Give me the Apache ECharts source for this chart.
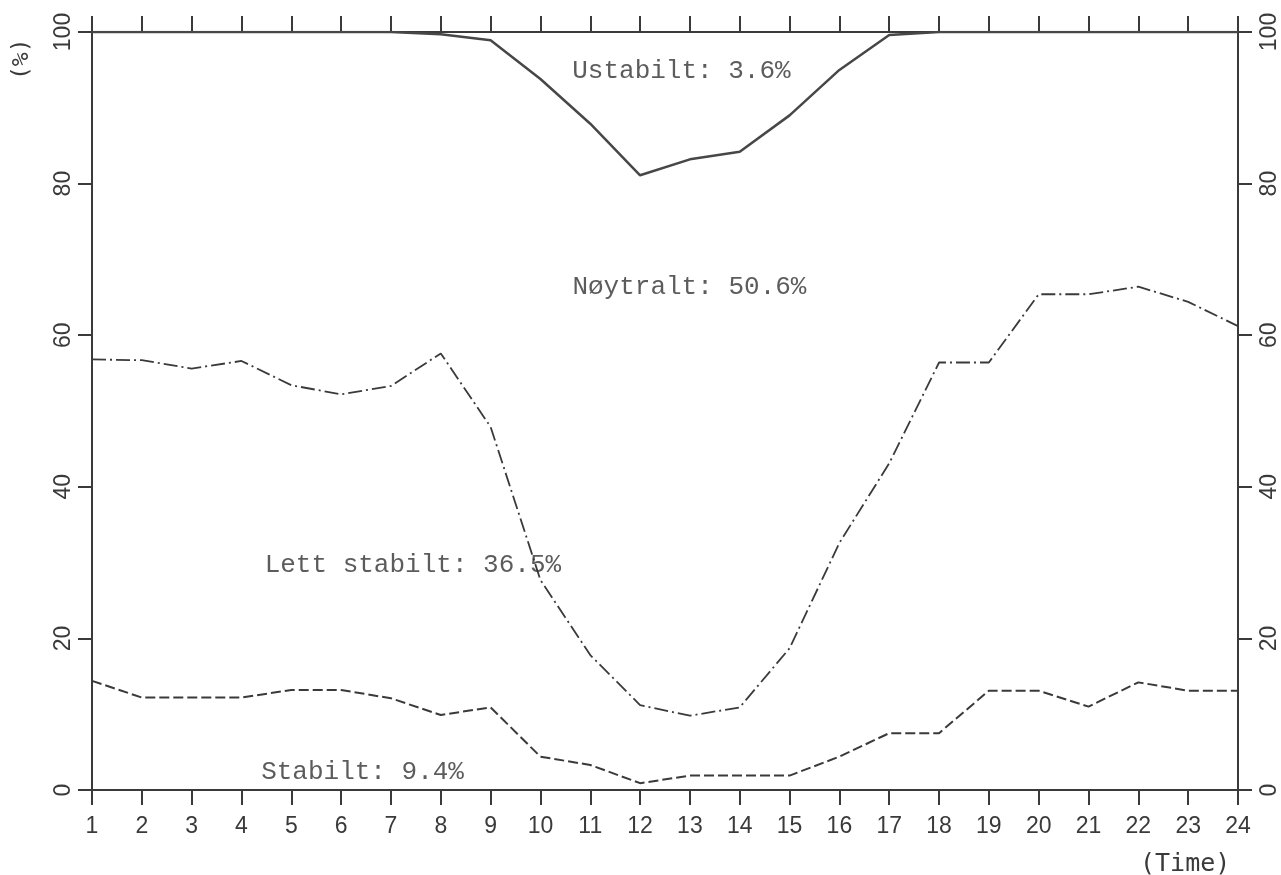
<!DOCTYPE html>
<html>
<head>
<meta charset="utf-8">
<script src="https://cdn.jsdelivr.net/npm/echarts@6/dist/echarts.min.js"></script>
<style>
html,body{margin:0;padding:0;background:#fff;}
#chart{width:1281px;height:875px;}
</style>
</head>
<body>
<div id="chart"></div>
<script>
// Hours of the day (Time)
var hours = [1,2,3,4,5,6,7,8,9,10,11,12,13,14,15,16,17,18,19,20,21,22,23,24];
// Upper boundary of "Stabilt" (%)
var stabiltLine = [14.4,12.2,12.2,12.2,13.2,13.2,12.1,9.9,10.9,4.4,3.3,0.9,1.9,1.9,1.9,4.4,7.5,7.5,13.1,13.1,11.0,14.2,13.1,13.1];
// Upper boundary of "Lett stabilt" (cumulative %)
var lettStabiltLine = [56.8,56.7,55.6,56.6,53.4,52.2,53.3,57.6,47.9,27.7,17.8,11.2,9.8,10.9,18.7,32.6,43.1,56.4,56.4,65.4,65.4,66.4,64.4,61.2];
// Upper boundary of "Nøytralt" (cumulative %), above it: "Ustabilt"
var noytraltLine = [100,100,100,100,100,100,100,99.7,98.9,93.8,87.9,81.1,83.2,84.2,89.0,95.0,99.6,100,100,100,100,100,100,100];
// Y tick labels
var yTicks = [0,20,40,60,80,100];
// Class annotations
var classLabels = ['Ustabilt: 3.6%','Nøytralt: 50.6%','Lett stabilt: 36.5%','Stabilt: 9.4%'];

function pairs(arr){ return hours.map(function(h,i){ return [h, arr[i]]; }); }

var ink = '#3a3a3a';
var monoFont = '"Liberation Mono","DejaVu Sans Mono",monospace';
var tickFont = '"Liberation Sans","DejaVu Sans",sans-serif';

var chart = echarts.init(document.getElementById('chart'), null, {renderer:'canvas'});
var axisLine = {show:true, onZero:false, lineStyle:{color:ink, width:2}};
var tickStyle = {color:ink, width:2};

var annotations = [
  {value:[12.83, 94.9], name:classLabels[0]},
  {value:[12.99, 66.4], name:classLabels[1]},
  {value:[7.44, 29.7], name:classLabels[2]},
  {value:[6.43, 2.4], name:classLabels[3]}
];

var option = {
  animation:false,
  backgroundColor:'#fff',
  grid:{left:92, right:42, top:32, bottom:85, containLabel:false},
  xAxis:[
    {type:'value', position:'bottom', min:1, max:24, interval:1,
     axisLine:axisLine, splitLine:{show:false},
     axisTick:{show:true, inside:false, length:15, lineStyle:tickStyle},
     axisLabel:{show:true, margin:25, color:ink, fontFamily:tickFont, fontSize:23,
       formatter:function(v){ return hours.indexOf(v) >= 0 ? String(v) : ''; }}},
    {type:'value', position:'top', min:1, max:24, interval:1,
     axisLine:axisLine, splitLine:{show:false},
     axisTick:{show:true, inside:false, length:16, lineStyle:tickStyle},
     axisLabel:{show:false}}
  ],
  yAxis:[
    {type:'value', position:'left', min:0, max:100, interval:20,
     axisLine:axisLine, splitLine:{show:false},
     axisTick:{show:true, inside:false, length:14, lineStyle:tickStyle},
     axisLabel:{show:true, rotate:90, margin:17, color:ink, fontFamily:tickFont, fontSize:23,
       formatter:function(v){ return yTicks.indexOf(v) >= 0 ? String(v) : ''; }}},
    {type:'value', position:'right', min:0, max:100, interval:20,
     axisLine:axisLine, splitLine:{show:false},
     axisTick:{show:true, inside:false, length:14, lineStyle:tickStyle},
     axisLabel:{show:true, rotate:90, margin:20, color:ink, fontFamily:tickFont, fontSize:23,
       formatter:function(v){ return yTicks.indexOf(v) >= 0 ? String(v) : ''; }}}
  ],
  graphic:[
    {type:'text', x:34, y:80, rotation:Math.PI/2,
     style:{text:'(%)', fill:ink, font:'23px "DejaVu Sans Mono", monospace', textAlign:'left', textVerticalAlign:'bottom'}},
    {type:'text', left:1140, top:852,
     style:{text:'(Time)', fill:ink, font:'25px "DejaVu Sans Mono", monospace'}}
  ],
  series:[
    {name:'Stabilt', type:'line', data:pairs(stabiltLine), symbol:'none', smooth:false,
     lineStyle:{color:ink, width:2, type:[10,4]}},
    {name:'Lett stabilt', type:'line', data:pairs(lettStabiltLine), symbol:'none', smooth:false,
     lineStyle:{color:ink, width:1.8, type:[14,4,2,4]}},
    {name:'Nøytralt', type:'line', data:pairs(noytraltLine), symbol:'none', smooth:false,
     lineStyle:{color:'#474747', width:2.5, type:'solid'}},
    {name:'labels', type:'scatter', data:annotations, symbol:'circle', symbolSize:1,
     itemStyle:{color:'rgba(0,0,0,0)'}, silent:true, z:5,
     label:{show:true, position:'inside', formatter:function(p){ return p.name; },
       color:'#333', fontFamily:monoFont, fontSize:26}}
  ]
};
chart.setOption(option);
</script>
</body>
</html>
